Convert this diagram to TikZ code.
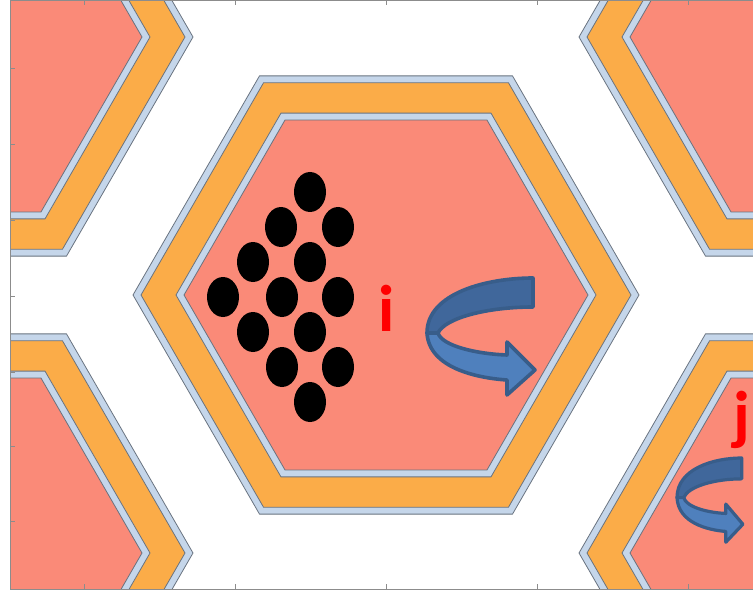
\documentclass[tikz,border=0pt]{standalone}
\usepackage{fontspec}
\setmainfont{Carlito}
\definecolor{salmon}{RGB}{250,138,120}
\definecolor{amber}{RGB}{251,172,72}
\definecolor{iceblue}{RGB}{197,214,234}
\definecolor{rimgray}{RGB}{105,115,128}
\definecolor{arrowdark}{RGB}{64,103,155}
\definecolor{arrowlight}{RGB}{79,128,189}
\definecolor{arrowline}{RGB}{56,93,138}
\definecolor{framegray}{RGB}{140,140,140}
\newcommand\hexcell[2]{%
  \begin{scope}[shift={(#1,#2)}]
    \foreach \r/\c in {253/iceblue,245/amber,210/iceblue,202/salmon}{
      \draw[layer=\c] (0:\r) -- (60:\r) -- (120:\r) -- (180:\r) -- (240:\r) -- (300:\r) -- cycle;
    }
  \end{scope}}
\newcommand\curvyarrow[1]{%
  \draw[arrowband, line width=#1, fill=arrowdark] (106,0) -- (106,29) .. controls (60,29) and (18,40) .. (11,55)
     -- (0,55) .. controls (0,15) and (60,0) .. (106,0) -- cycle;
  \draw[arrowband, line width=#1, fill=arrowlight] (0,55) .. controls (2,90) and (50,100) .. (80,102)
     -- (80,117) -- (108,92) -- (80,64) -- (80,77) .. controls (50,76) and (15,68) .. (11,55) -- cycle;}
\begin{document}
\begin{tikzpicture}[x=1pt,y=-1pt,
  layer/.style={fill=#1, draw=rimgray, line width=0.8pt, line join=miter},
  arrowband/.style={draw=arrowline, line join=round},
  tick/.style={draw=framegray, line width=0.8pt},
  label/.style={text=red, inner sep=0pt, anchor=base, font=\bfseries\fontsize{66}{66}\selectfont}]
\useasboundingbox (0,0) rectangle (753,591);
\begin{scope}
  \clip (10,0) rectangle (753,589);
  \hexcell{386}{295}
  \hexcell{-60}{37}
  \hexcell{832}{37}
  \hexcell{-60}{553}
  \hexcell{832}{553}
  \hexcell{386}{810}
  \hexcell{386}{-220}
\end{scope}
% frame and ticks
\draw[tick] (10,0) -- (10,589) -- (753,589);
\draw[tick] (10,0) -- (753,0);
\foreach \yy in {68,144,220,296,372,446,521} { \draw[tick] (10,\yy) -- (15,\yy); }
\foreach \xx in {84,235,386,537,688} { \draw[tick] (\xx,589) -- (\xx,584); \draw[tick] (\xx,0) -- (\xx,5); }
% particles
\foreach \px/\py in {310/192, 281/227, 338/227, 253/262, 310/262, 223/297, 282/297, 338/297,
                     253/332, 310/332, 282/367, 338/367, 310/402}{
  \fill[black] (\px,\py) ellipse [x radius=16pt, y radius=20pt];
}
% labels
\node[label] (labi) at (387,331) {i};
\node[label] (labj) at (742,437) {j};
% rotation arrows
\begin{scope}[shift={(427,278)}]
  \curvyarrow{3.6pt}
\end{scope}
\begin{scope}[shift={(677,458)}, xscale=0.61, yscale=0.72]
  \curvyarrow{3.2pt}
\end{scope}
\end{tikzpicture}
\end{document}
